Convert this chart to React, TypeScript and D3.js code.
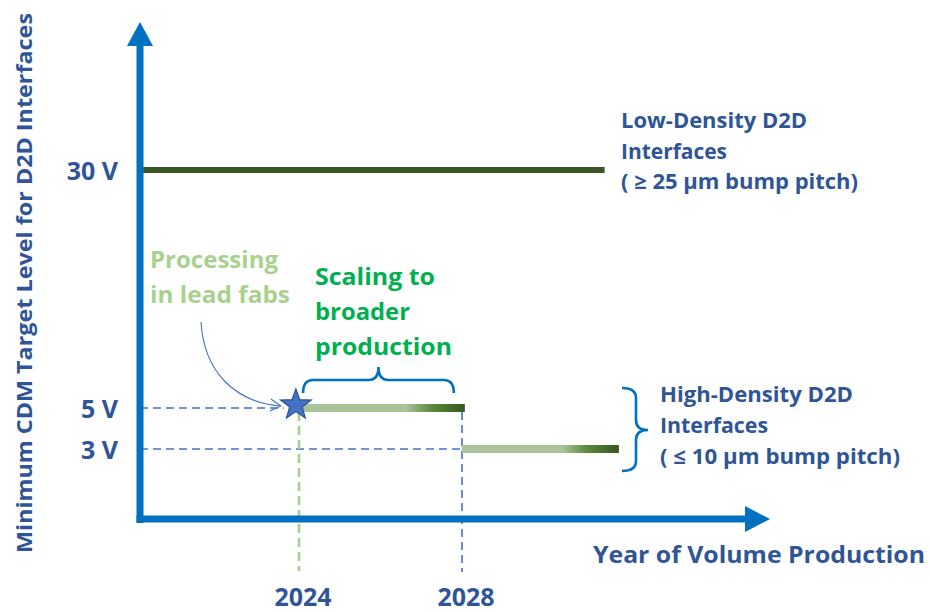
import React from "react";
import * as d3 from "d3";

// ---- data ----
const yearTicks = [2024, 2028];
const voltTicks = [30, 5, 3];
const voltLabels = ["30 V", "5 V", "3 V"];

const lowDensity = { start: 2020.1, end: 2031.5, volts: 30 };
const highDensitySegments = [
  { start: 2024.05, end: 2028.07, volts: 5 },
  { start: 2028.0, end: 2031.85, volts: 3 },
];
const leadFabYear = 2023.85;
const leadFabVolts = 5;
const scalingSpan = [2024.1, 2027.8];

const lowDensityLabel = ["Low-Density D2D", "Interfaces", "( \u2265 25 \u00b5m bump pitch)"];
const highDensityLabel = ["High-Density D2D", "Interfaces", "( \u2264 10 \u00b5m bump pitch)"];
const processingLabel = ["Processing", "in lead fabs"];
const scalingLabel = ["Scaling to", "broader", "production"];
const xTitle = "Year of Volume Production";
const yTitle = "Minimum CDM Target Level for D2D Interfaces";

// ---- styles (text widths to mimic the original typeface) ----
const lowWidths = [186, 106, 237];
const highWidths = [193, 108, 240];
const processingWidths = [128, 140];
const scalingWidths = [120, 95, 137];

const FONT = "'Open Sans', Lato, sans-serif";
const AXIS = "#0070c0";
const TXT = "#2f5597";
const DASH = "#4472c4";

export default function App() {
  const x = d3.scaleLinear().domain([2020, 2028]).range([136, 462]);
  const y = d3.scaleLinear().domain([0, 3, 5, 30]).range([519, 449, 408, 170]);

  const starPts = (cx: number, cy: number, R: number, r: number) => {
    const pts: [number, number][] = [];
    for (let i = 0; i < 10; i++) {
      const a = -Math.PI / 2 + (i * Math.PI) / 5;
      const rad = i % 2 === 0 ? R : r;
      pts.push([cx + rad * Math.cos(a), cy + rad * Math.sin(a)]);
    }
    return pts.map((p) => p.join(",")).join(" ");
  };

  const axisY0 = y(0);
  const axisX0 = 140;

  const bx0 = x(scalingSpan[0]);
  const bx1 = x(scalingSpan[1]);
  const bm = (bx0 + bx1) / 2;
  const bTop = 380;
  const braceTop = `M${bx0},393 Q${bx0},${bTop} ${bx0 + 10},${bTop} L${bm - 10},${bTop} Q${bm},${bTop} ${bm},${bTop - 13} Q${bm},${bTop} ${bm + 10},${bTop} L${bx1 - 10},${bTop} Q${bx1},${bTop} ${bx1},393`;
  const braceRight = `M622,388 Q636,388 636,398 L636,420 Q636,430 648,430 Q636,430 636,440 L636,461 Q636,471 622,471`;

  const starX = x(leadFabYear) + 3;
  const starY = y(leadFabVolts) - 3;

  const fit = { lengthAdjust: "spacingAndGlyphs" as const };

  return (
    <svg width={930} height={612} style={{ position: "absolute", left: 0, top: 0 }} fontFamily={FONT} fontWeight={700}>
      <defs>
        <linearGradient id="barGrad" x1="0" x2="1" y1="0" y2="0">
          <stop offset="0" stopColor="#a9c39b" />
          <stop offset="0.64" stopColor="#a9c39b" />
          <stop offset="0.8" stopColor="#5a8a38" />
          <stop offset="1" stopColor="#375623" />
        </linearGradient>
      </defs>

      {/* dashed guides */}
      <line x1={axisX0} x2={starX - 12} y1={y(5)} y2={y(5)} stroke={DASH} strokeWidth={1.6} strokeDasharray="8,5" />
      <line x1={axisX0} x2={x(2028)} y1={y(3)} y2={y(3)} stroke={DASH} strokeWidth={1.6} strokeDasharray="8,5" />
      <line x1={x(2024)} x2={x(2024)} y1={y(5) + 4} y2={571} stroke="#a9d18e" strokeWidth={2.6} strokeDasharray="9,5" />
      <line x1={x(2028)} x2={x(2028)} y1={y(5) + 4} y2={572} stroke={DASH} strokeWidth={1.6} strokeDasharray="8,5" />

      {/* low density line */}
      <line x1={x(lowDensity.start)} x2={x(lowDensity.end)} y1={y(lowDensity.volts)} y2={y(lowDensity.volts)} stroke="#3b5524" strokeWidth={6} />

      {/* high density bars */}
      {highDensitySegments.map((s, i) => (
        <rect key={i} x={x(s.start)} y={y(s.volts) - 4} width={x(s.end) - x(s.start)} height={8} fill="url(#barGrad)" />
      ))}

      {/* axes */}
      <line x1={axisX0} x2={axisX0} y1={46} y2={axisY0 + 4} stroke={AXIS} strokeWidth={7} />
      <polygon points={`${axisX0},22 ${axisX0 - 13},46 ${axisX0 + 13},46`} fill={AXIS} />
      <line x1={axisX0 - 3.5} x2={746} y1={axisY0} y2={axisY0} stroke={AXIS} strokeWidth={7} />
      <polygon points={`770,${axisY0} 745,${axisY0 - 13} 745,${axisY0 + 13}`} fill={AXIS} />

      {/* braces */}
      <path d={braceTop} fill="none" stroke={AXIS} strokeWidth={2.6} />
      <path d={braceRight} fill="none" stroke={AXIS} strokeWidth={2.6} />

      {/* arrow from Processing label */}
      <path d={`M201,322 C204,372 235,402 ${starX - 16},${starY + 1}`} fill="none" stroke={DASH} strokeWidth={1.1} />
      <path d={`M${starX - 25},${starY - 6} L${starX - 15},${starY + 1} L${starX - 26},${starY + 6}`} fill="none" stroke={DASH} strokeWidth={1.1} />

      {/* star */}
      <polygon points={starPts(starX, starY, 16, 6.5)} fill="#4472c4" stroke="#2f5597" strokeWidth={1.3} />

      {/* tick labels */}
      {voltTicks.map((v, i) => (
        <text key={v} x={118} y={y(v) + 10} textAnchor="end" fontSize={25} fill={TXT}>
          {voltLabels[i]}
        </text>
      ))}
      {yearTicks.map((yr) => (
        <text key={yr} x={x(yr) + 4} y={606} textAnchor="middle" fontSize={25} fill={TXT}>
          {yr}
        </text>
      ))}

      {/* titles */}
      <text x={593} y={563} fontSize={24} fill={TXT} textLength={332} {...fit}>
        {xTitle}
      </text>
      <text transform="translate(32,283) rotate(-90)" textAnchor="middle" fontSize={21.5} fill={TXT} textLength={540} {...fit}>
        {yTitle}
      </text>

      {/* annotations */}
      {lowDensityLabel.map((t, i) => (
        <text key={t} x={621} y={128 + i * 30.5} fontSize={21} fill={TXT} textLength={lowWidths[i]} {...fit}>
          {t}
        </text>
      ))}
      {highDensityLabel.map((t, i) => (
        <text key={t} x={660} y={402 + i * 31} fontSize={21} fill={TXT} textLength={highWidths[i]} {...fit}>
          {t}
        </text>
      ))}
      {processingLabel.map((t, i) => (
        <text key={t} x={150} y={268 + i * 35} fontSize={23} fill="#a9d18e" textLength={processingWidths[i]} {...fit}>
          {t}
        </text>
      ))}
      {scalingLabel.map((t, i) => (
        <text key={t} x={315} y={285 + i * 35} fontSize={23} fill="#00b050" textLength={scalingWidths[i]} {...fit}>
          {t}
        </text>
      ))}
    </svg>
  );
}
